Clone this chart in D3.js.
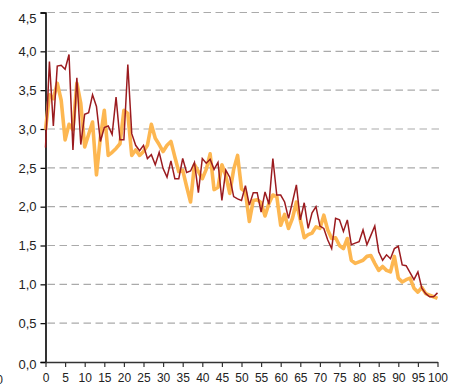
<!DOCTYPE html>
<html><head><meta charset="utf-8">
<script src="https://cdn.jsdelivr.net/npm/d3@7"></script>
<style>body{margin:0;background:#fff}svg{display:block}</style>
</head><body>
<script>
const xTicks = [0,5,10,15,20,25,30,35,40,45,50,55,60,65,70,75,80,85,90,95,100];
const yTicks = [0,0.5,1,1.5,2,2.5,3,3.5,4,4.5];
const redValues = [2.76,3.87,3.04,3.81,3.82,3.77,3.96,2.73,3.66,2.80,3.19,3.21,3.44,3.29,2.84,3.02,3.04,2.93,3.41,2.86,
2.86,3.83,2.94,2.79,2.72,2.79,2.62,2.67,2.54,2.70,2.49,2.38,2.59,2.36,2.36,2.62,2.44,2.46,2.57,2.18,
2.62,2.56,2.61,2.48,2.57,2.08,2.47,2.38,2.13,2.10,2.08,2.27,2.02,2.18,2.18,1.93,2.19,2.03,2.62,2.15,
2.15,2.06,1.85,2.06,2.28,1.83,2.05,1.72,1.92,2.00,1.75,1.72,1.57,1.46,1.85,1.83,1.68,1.83,1.51,1.53,
1.55,1.70,1.51,1.63,1.75,1.42,1.31,1.38,1.33,1.46,1.49,1.25,1.24,1.15,1.06,1.16,0.95,0.88,0.84,0.84,0.89];
const orangeValues = [2.99,3.44,3.39,3.59,3.37,2.86,3.06,2.99,3.59,3.33,2.77,2.93,3.09,2.41,2.89,3.24,2.66,2.70,2.75,2.81,
3.24,3.20,2.66,2.73,2.66,2.71,2.79,3.06,2.88,2.80,2.71,2.79,2.84,2.64,2.45,2.47,2.26,2.06,2.54,2.45,
2.36,2.48,2.68,2.22,2.25,2.54,2.40,2.17,2.48,2.66,2.23,2.19,1.81,2.08,2.09,2.05,1.88,2.04,2.15,2.13,
1.76,1.90,1.72,1.85,2.06,1.83,1.60,1.64,1.66,1.74,1.72,1.89,1.70,1.59,1.60,1.50,1.46,1.59,1.31,1.27,
1.29,1.31,1.36,1.37,1.27,1.18,1.23,1.18,1.16,1.36,1.08,1.03,1.06,1.08,0.95,0.90,0.96,0.88,0.86,0.84,0.82];

const W = 455, H = 389;
const m = {left: 45.5, right: 17.5, top: 12.5, bottom: 27};
const svg = d3.select("body").append("svg").attr("width", W).attr("height", H);
const x = d3.scaleLinear().domain([0,100]).range([m.left, W - m.right]);
const y = d3.scaleLinear().domain([0,4.5]).range([H - m.bottom, m.top]);
const fmt = v => d3.format(".1f")(v).replace(".", ",");
const font = "'Liberation Sans', Arial, sans-serif";

// grid
svg.append("g").selectAll("line").data(yTicks.filter(d => d > 0)).join("line")
  .attr("x1", x(0) + 2).attr("x2", 439).attr("y1", d => y(d)).attr("y2", d => y(d))
  .attr("stroke", "#aaaaaa").attr("stroke-width", 1.2).attr("stroke-dasharray", "7.5,4.5");

// y axis
const ya = svg.append("g").attr("transform", `translate(${x(0)},0)`)
  .call(d3.axisLeft(y).tickValues(yTicks).tickFormat(fmt).tickSize(5).tickPadding(4));
ya.select(".domain").attr("stroke", "#000").attr("stroke-width", 1.6);
ya.selectAll(".tick line").attr("stroke", "#000").attr("stroke-width", 1.2);
ya.selectAll("text").attr("font-family", font).attr("font-size", 13).attr("fill", "#222")
  .attr("dy", d => d === 4.5 ? "0.75em" : (d === 0 ? "0.5em" : "0.32em"));

// x axis
const xa = svg.append("g").attr("transform", `translate(0,${y(0)})`)
  .call(d3.axisBottom(x).tickValues(xTicks).tickFormat(d3.format("d")).tickSize(5).tickPadding(6).tickSizeOuter(0));
xa.select(".domain").attr("stroke", "#333").attr("stroke-width", 1.6);
xa.selectAll(".tick line").attr("stroke", "#333").attr("stroke-width", 1.2);
xa.selectAll("text").attr("font-family", font).attr("font-size", 12).attr("fill", "#222");

// clipped stray label at far left
svg.append("text").attr("x", 3).attr("y", y(0) + 22).attr("text-anchor", "end")
  .attr("font-family", font).attr("font-size", 12).attr("fill", "#222").text("0");

const line = d3.line().x((d, i) => x(i)).y(d => y(d));
svg.append("path").datum(orangeValues).attr("d", line).attr("fill", "none")
  .attr("stroke", "#fdb751").attr("stroke-width", 3.6).attr("stroke-linejoin", "round");
svg.append("path").datum(redValues).attr("d", line).attr("fill", "none")
  .attr("stroke", "#9b1b1f").attr("stroke-width", 1.5).attr("stroke-linejoin", "miter");
</script>
</body></html>
